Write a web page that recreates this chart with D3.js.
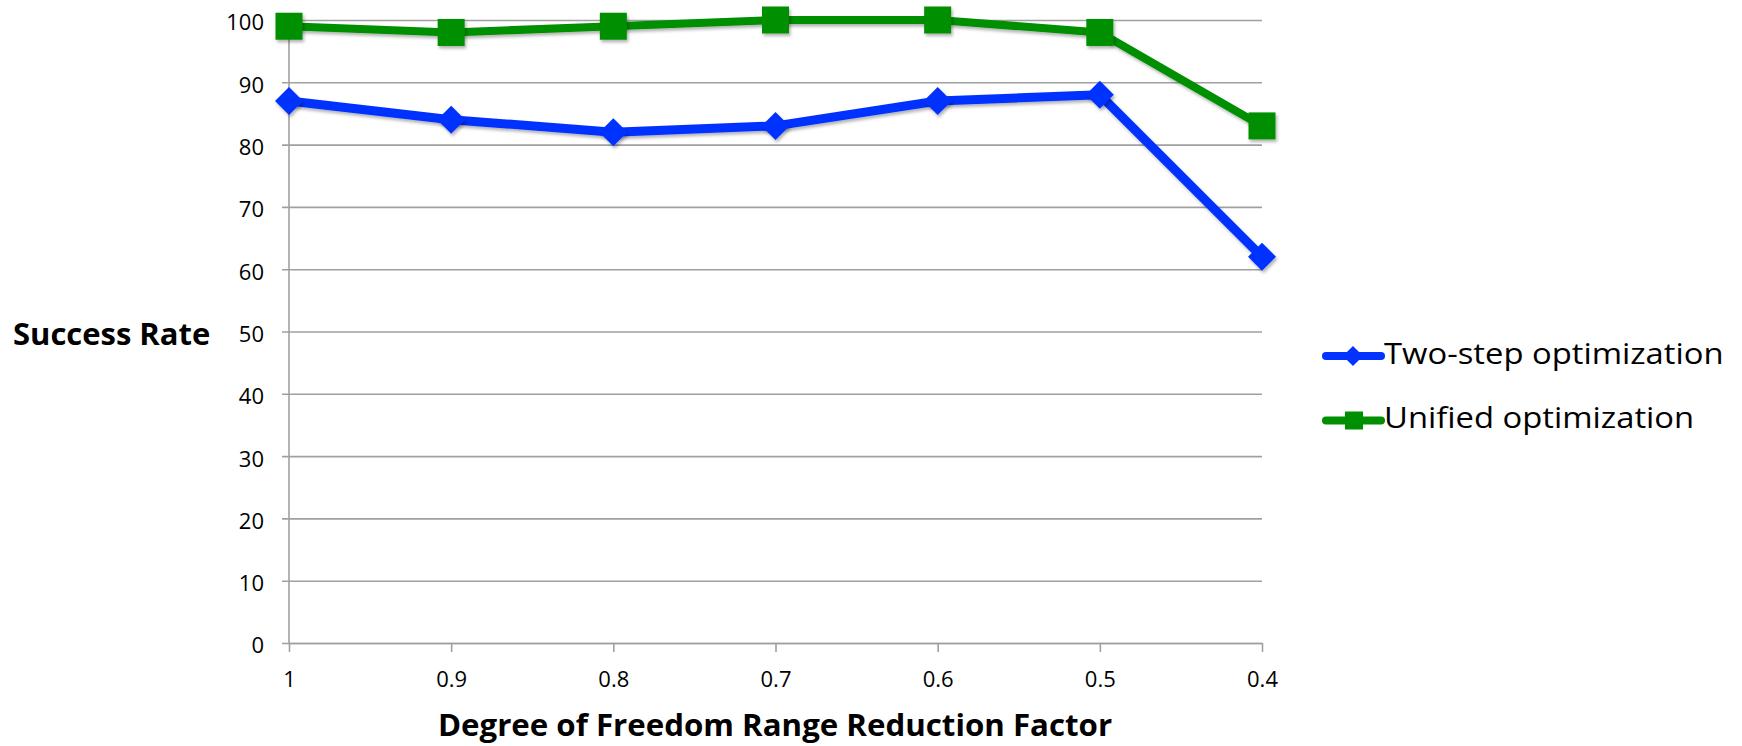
<!DOCTYPE html>
<html>
<head>
<meta charset="utf-8">
<script src="https://cdn.jsdelivr.net/npm/d3@7"></script>
<style>
  html, body { margin: 0; padding: 0; background: #fff; }
  svg { display: block; font-family: "Open Sans", "Noto Sans", sans-serif; }
</style>
</head>
<body>
<svg id="chart" width="1742" height="746"></svg>
<script>
// Reduction factors along the x axis
const categories = ["1", "0.9", "0.8", "0.7", "0.6", "0.5", "0.4"];
// Success rate (%) per method
const twoStep = [87, 84, 82, 83, 87, 88, 62];
const unified = [99, 98, 99, 100, 100, 98, 83];
const yTicks = [0, 10, 20, 30, 40, 50, 60, 70, 80, 90, 100];
const seriesNames = ["Two-step optimization", "Unified optimization"];

const svg = d3.select("#chart");
const margin = { left: 289, right: 480, top: 20, bottom: 103 };
const W = 1742, H = 746;
const FONT = "'Open Sans', 'Noto Sans', sans-serif";

const x = d3.scalePoint().domain(categories).range([margin.left, W - margin.right]);
const y = d3.scaleLinear().domain([0, 100]).range([H - margin.bottom, margin.top]);

// soft shadow under lines and markers
const defs = svg.append("defs");
const f = defs.append("filter").attr("id", "shadow")
  .attr("x", "-20%").attr("y", "-20%").attr("width", "140%").attr("height", "140%");
f.append("feDropShadow").attr("dx", 1.5).attr("dy", 2.5).attr("stdDeviation", 1.8)
  .attr("flood-color", "#000").attr("flood-opacity", 0.3);

// text helper: places a label with a slight horizontal widening of the glyphs
function label(parent, px, py, str, opts) {
  const g = parent.append("g").attr("transform", `translate(${px},${py}) scale(${opts.sx || 1},1)`);
  return g.append("text")
    .attr("text-anchor", opts.anchor || "start")
    .attr("font-weight", opts.weight || "normal")
    .attr("font-size", opts.size)
    .attr("fill", "#000")
    .text(str);
}

// horizontal gridlines + y axis
const yAxis = d3.axisLeft(y).tickValues(yTicks).tickSize(-(x.range()[1] - x.range()[0])).tickPadding(25);
const gy = svg.append("g").attr("transform", `translate(${margin.left},0)`).call(yAxis);
gy.select(".domain").remove();
gy.selectAll(".tick line").attr("stroke", "#a0a0a0").attr("stroke-width", 1.6).attr("x1", -7);
gy.selectAll(".tick text").attr("font-size", 22).attr("fill", "#000")
  .attr("font-family", FONT).attr("dy", "0.45em");

// vertical axis line
svg.append("line")
  .attr("x1", margin.left).attr("x2", margin.left)
  .attr("y1", y(100)).attr("y2", y(0))
  .attr("stroke", "#a0a0a0").attr("stroke-width", 1.6);

// x axis
const xAxis = d3.axisBottom(x).tickSize(9).tickPadding(19).tickSizeOuter(0);
const gx = svg.append("g").attr("transform", `translate(0,${y(0)})`).call(xAxis);
gx.select(".domain").attr("stroke", "#a0a0a0").attr("stroke-width", 1.6);
gx.selectAll(".tick line").attr("stroke", "#a0a0a0").attr("stroke-width", 1.6);
gx.selectAll(".tick text").attr("font-size", 22).attr("fill", "#000").attr("font-family", FONT);

// axis titles
label(svg, 775, 736, "Degree of Freedom Range Reduction Factor",
  { anchor: "middle", weight: "bold", size: 29.5, sx: 1.06 });
label(svg, 13, 344.5, "Success Rate", { weight: "bold", size: 29.5, sx: 1.05 });

const line = d3.line().x((d, i) => x(categories[i])).y(d => y(d));
const blue = "#0433ff", green = "#008f00";

// unified (green, squares)
svg.append("path").datum(unified)
  .attr("d", line).attr("fill", "none")
  .attr("stroke", green).attr("stroke-width", 8).attr("stroke-linejoin", "round")
  .attr("filter", "url(#shadow)");
// two-step (blue, diamonds)
svg.append("path").datum(twoStep)
  .attr("d", line).attr("fill", "none")
  .attr("stroke", blue).attr("stroke-width", 9).attr("stroke-linejoin", "round")
  .attr("filter", "url(#shadow)");

const sq = 27;
svg.append("g").attr("filter", "url(#shadow)")
  .selectAll("rect").data(unified).join("rect")
  .attr("x", (d, i) => x(categories[i]) - sq / 2)
  .attr("y", d => y(d) - sq / 2)
  .attr("width", sq).attr("height", sq)
  .attr("fill", green);

const diamond = d3.symbol().type(d3.symbolDiamond2).size(500);
svg.append("g").attr("filter", "url(#shadow)")
  .selectAll("path").data(twoStep).join("path")
  .attr("transform", (d, i) => `translate(${x(categories[i])},${y(d)})`)
  .attr("d", diamond)
  .attr("fill", blue);

// legend
const legend = svg.append("g");
const legendItems = [
  { name: seriesNames[0], color: blue, shape: "diamond", y: 356 },
  { name: seriesNames[1], color: green, shape: "square", y: 420.5 }
];
legendItems.forEach(it => {
  const g = legend.append("g");
  g.append("line").attr("x1", 1326).attr("x2", 1381).attr("y1", it.y).attr("y2", it.y)
    .attr("stroke", it.color).attr("stroke-width", 8).attr("stroke-linecap", "round");
  if (it.shape === "diamond") {
    g.append("path").attr("transform", `translate(1353,${it.y})`)
      .attr("d", d3.symbol().type(d3.symbolDiamond2).size(260)).attr("fill", it.color);
  } else {
    g.append("rect").attr("x", 1345).attr("y", it.y - 9).attr("width", 18).attr("height", 18)
      .attr("fill", it.color);
  }
  label(g, 1384, it.y + 7.5, it.name, { size: 28.5, sx: 1.15 });
});
</script>
</body>
</html>
